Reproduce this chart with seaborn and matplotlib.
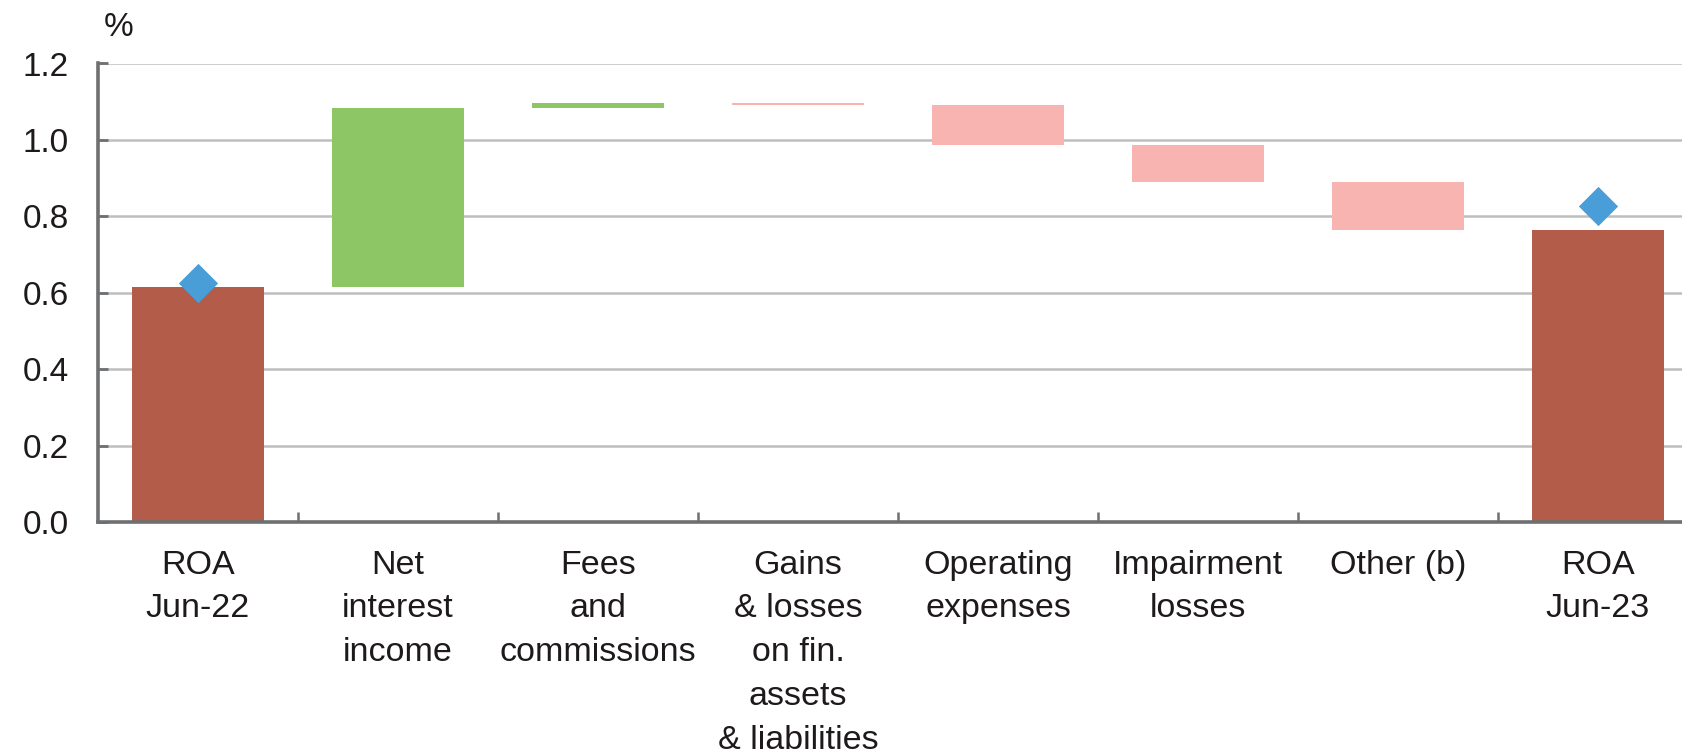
import numpy as np
import matplotlib
matplotlib.use("Agg")
import matplotlib.pyplot as plt
from matplotlib.ticker import FixedLocator
import seaborn as sns

# Datos del gráfico (ROA, descomposición por componentes, %)
categories = ["ROA\nJun-22", "Net\ninterest\nincome", "Fees\nand\ncommissions",
              "Gains\n& losses\non fin.\nassets\n& liabilities", "Operating\nexpenses",
              "Impairment\nlosses", "Other (b)", "ROA\nJun-23"]
roa_start = 0.615
changes = [0.468, 0.013, -0.004, -0.104, -0.098, -0.126]
roa_end = 0.764
diamond_labels = ["ROA\nJun-22", "ROA\nJun-23"]
diamond_values = [0.626, 0.827]
y_ticks = [0.0, 0.2, 0.4, 0.6, 0.8, 1.0, 1.2]

total_color = "#B35C4A"
up_color = "#8CC665"
down_color = "#F7B4B0"
diamond_color = "#4A9ED8"
axis_color = "#6D6F71"
grid_color = "#BDBFBF"
text_color = "#1E1A1B"

# cascada: bases y alturas
levels = roa_start + np.cumsum(changes)
bottoms = [0.0, roa_start] + list(levels[:-1]) + [0.0]
heights = [roa_start] + changes + [roa_end]
bar_colors = [total_color] + [up_color if c > 0 else down_color for c in changes] + [total_color]

sns.set_theme(style="white")
plt.rcParams["font.family"] = ["Liberation Sans", "DejaVu Sans"]

fig = plt.figure(figsize=(16.83, 7.53), dpi=100)
ax = fig.add_axes([98 / 1683, 231 / 753, 1600 / 1683, 458.5 / 753])

sns.barplot(x=categories, y=heights, bottom=bottoms, color=total_color,
            width=0.66, errorbar=None, linewidth=0, ax=ax)
for patch, c in zip(ax.patches, bar_colors):
    patch.set_facecolor(c)
    patch.set_edgecolor(c)

sns.stripplot(x=diamond_labels, y=diamond_values, order=categories, jitter=False,
              marker="D", size=20, color=diamond_color, linewidth=0, zorder=3, ax=ax)

ax.set_xlim(-0.5, len(categories) - 0.5)
ax.set_ylim(0, 1.2)
ax.set_yticks(y_ticks)
ax.set_yticklabels([f"{v:.1f}" for v in y_ticks])
ax.set_xlabel("")
ax.set_ylabel("")

ax.set_axisbelow(True)
ax.yaxis.grid(True, color=grid_color, linewidth=1.8)
ax.xaxis.grid(False)

for side in ["top", "right"]:
    ax.spines[side].set_visible(False)
for side in ["left", "bottom"]:
    ax.spines[side].set_color(axis_color)
    ax.spines[side].set_linewidth(2.6)

ax.xaxis.set_minor_locator(FixedLocator(np.arange(0.5, len(categories) - 1, 1.0)))
ax.tick_params(axis="x", which="major", length=0, pad=20, labelsize=24.5,
               labelcolor=text_color)
ax.tick_params(axis="x", which="minor", direction="in", length=7, width=1.8,
               color=axis_color, bottom=True)
ax.tick_params(axis="y", which="major", direction="in", length=7, width=2,
               color=axis_color, pad=21, labelsize=24, labelcolor=text_color, left=True)
for lab in ax.get_xticklabels():
    lab.set_linespacing(1.53)

fig.text(104 / 1683, 1 - 36 / 753, "%", fontsize=24, color=text_color, va="baseline")

fig.savefig("out.png", dpi=100)
